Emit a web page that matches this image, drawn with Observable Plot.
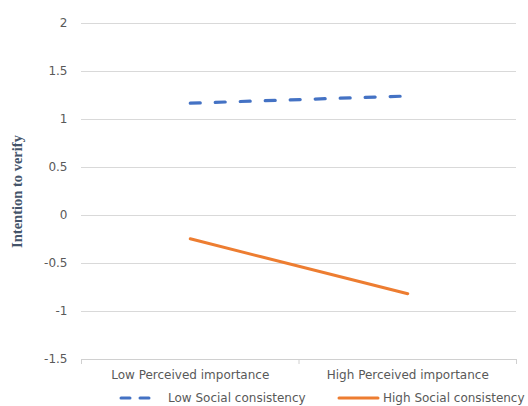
<!DOCTYPE html>
<html>
<head>
<meta charset="utf-8">
<script src="https://cdn.jsdelivr.net/npm/d3@7"></script>
<script src="https://cdn.jsdelivr.net/npm/@observablehq/plot@0.6"></script>
<style>
  html, body { margin: 0; padding: 0; background: #fff; }
  #chart { width: 528px; height: 406px; position: relative; font-family: "DejaVu Sans", sans-serif; }
  .legend { position: absolute; left: 0; top: 388px; width: 528px; height: 19px; font-size: 12px; color: #595959; }
  .legend .item { position: absolute; top: 0; display: flex; align-items: center; height: 19px; }
  .legend svg { display: block; }
</style>
</head>
<body>
<div id="chart"></div>
<script>
const categories = ["Low Perceived importance", "High Perceived importance"];
const seriesNames = ["Low Social consistency", "High Social consistency"];
const lowSocial = [1.17, 1.245];
const highSocial = [-0.243, -0.815];
const yTicks = [-1.5, -1, -0.5, 0, 0.5, 1, 1.5, 2];
const colors = ["#4472C4", "#ED7D31"];

const rows = [];
categories.forEach((c, i) => {
  rows.push({series: seriesNames[0], pos: i + 0.5, value: lowSocial[i]});
  rows.push({series: seriesNames[1], pos: i + 0.5, value: highSocial[i]});
});
const boundaries = d3.range(categories.length + 1);

const plot = Plot.plot({
  width: 528,
  height: 387,
  marginLeft: 81,
  marginRight: 12,
  marginTop: 23,
  marginBottom: 28,
  style: {fontFamily: "DejaVu Sans, sans-serif", fontSize: "12px", color: "#595959", background: "#fff"},
  x: {type: "linear", domain: [0, categories.length], axis: null},
  y: {type: "linear", domain: [-1.5, 2], axis: null},
  marks: [
    Plot.ruleY(yTicks.filter(d => d > -1.5), {stroke: "#d9d9d9", strokeWidth: 1}),
    Plot.ruleY([-1.5], {stroke: "#d0d0d0", strokeWidth: 1}),
    Plot.axisX({ticks: boundaries, tickSize: 5, tickFormat: () => "", stroke: "#d0d0d0", strokeOpacity: 1, label: null}),
    Plot.axisY({ticks: yTicks, tickSize: 0, tickPadding: 14, tickFormat: d => String(d), fontSize: 12, fill: "#595959", label: null}),
    Plot.axisX({ticks: categories.map((c, i) => i + 0.5), tickSize: 0, tickPadding: 11, tickFormat: d => categories[Math.round(d - 0.5)], fontSize: 12, fill: "#595959", label: null}),
    Plot.line(rows.filter(d => d.series === seriesNames[0]), {x: "pos", y: "value", stroke: colors[0], strokeWidth: 3.2, strokeDasharray: "10,15", strokeLinecap: "round"}),
    Plot.line(rows.filter(d => d.series === seriesNames[1]), {x: "pos", y: "value", stroke: colors[1], strokeWidth: 3, strokeLinecap: "round"}),
    Plot.text(["Intention to verify"], {text: d => d, frameAnchor: "left", textAnchor: "middle", dx: -64, dy: 0, rotate: -90, fontFamily: "Liberation Serif, serif", fontWeight: "bold", fontSize: 14.5, fill: "#44546A"})
  ]
});
document.getElementById("chart").appendChild(plot);

// legend
const legend = document.createElement("div");
legend.className = "legend";
const items = [
  {name: seriesNames[0], color: colors[0], dash: "9,10", left: 118, w: 36, gap: 14},
  {name: seriesNames[1], color: colors[1], dash: null, left: 336, w: 44, gap: 3}
];
items.forEach(it => {
  const d = document.createElement("div");
  d.className = "item";
  d.style.left = it.left + "px";
  const s = d3.create("svg").attr("width", it.w).attr("height", 10);
  s.append("line").attr("x1", 3).attr("x2", it.w - 2).attr("y1", 5).attr("y2", 5)
    .attr("stroke", it.color).attr("stroke-width", 3).attr("stroke-linecap", "round")
    .attr("stroke-dasharray", it.dash);
  d.appendChild(s.node());
  const t = document.createElement("span");
  t.textContent = it.name;
  t.style.marginLeft = it.gap + "px";
  d.appendChild(t);
  legend.appendChild(d);
});
document.getElementById("chart").appendChild(legend);
</script>
</body>
</html>
